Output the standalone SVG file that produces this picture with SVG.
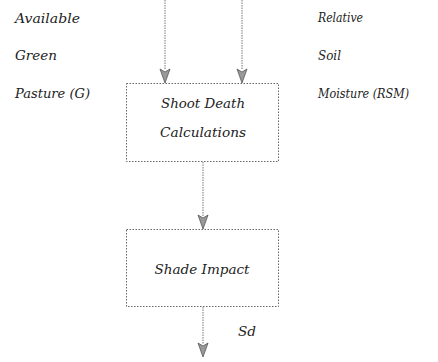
<svg xmlns="http://www.w3.org/2000/svg" width="438" height="362" viewBox="0 0 438 362">
<defs>
<style>
.t{font-family:'DejaVu Serif','Liberation Serif',serif;font-style:italic;font-size:12px;fill:#222}
.box{fill:none;stroke:#666;stroke-width:1;stroke-dasharray:1.5 1.5}
.line{fill:none;stroke:#777;stroke-width:1;stroke-dasharray:1.5 1}
.head{fill:#999;stroke:#555;stroke-width:0.8}
</style>
</defs>
<rect width="438" height="362" fill="#fff"/>
<g id="label-g" class="t">
<text x="15" y="23" textLength="65" lengthAdjust="spacingAndGlyphs">Available</text>
<text x="15" y="60" textLength="42" lengthAdjust="spacingAndGlyphs">Green</text>
<text x="15" y="98" textLength="75" lengthAdjust="spacingAndGlyphs">Pasture (G)</text>
</g>
<g id="label-rsm" class="t">
<text x="318" y="22" textLength="45" lengthAdjust="spacingAndGlyphs">Relative</text>
<text x="318" y="60" textLength="23" lengthAdjust="spacingAndGlyphs">Soil</text>
<text x="318" y="98" textLength="91" lengthAdjust="spacingAndGlyphs">Moisture (RSM)</text>
</g>
<g id="shoot-death">
<rect class="box" x="126.5" y="83.5" width="152" height="78"/>
<text class="t" x="203" y="108" text-anchor="middle" textLength="84" lengthAdjust="spacingAndGlyphs">Shoot Death</text>
<text class="t" x="203" y="137" text-anchor="middle" textLength="86" lengthAdjust="spacingAndGlyphs">Calculations</text>
</g>
<g id="shade-impact">
<rect class="box" x="126.5" y="229.5" width="152" height="77"/>
<text class="t" x="202" y="274" text-anchor="middle" textLength="95" lengthAdjust="spacingAndGlyphs">Shade Impact</text>
</g>
<g id="label-sd">
<text class="t" x="238" y="336" textLength="18" lengthAdjust="spacingAndGlyphs">Sd</text>
</g>
<g id="connectors">
<line class="line" x1="165" y1="0" x2="165" y2="70"/>
<path class="head" d="M160,69 L165,72 L170,69 L165,83 Z"/>
<line class="line" x1="242" y1="0" x2="242" y2="70"/>
<path class="head" d="M237,69 L242,72 L247,69 L242,83 Z"/>
<line class="line" x1="203" y1="162" x2="203" y2="216"/>
<path class="head" d="M198,215 L203,218 L208,215 L203,229 Z"/>
<line class="line" x1="203" y1="307" x2="203" y2="344"/>
<path class="head" d="M198,343 L203,346 L208,343 L203,357 Z"/>
</g>
</svg>
